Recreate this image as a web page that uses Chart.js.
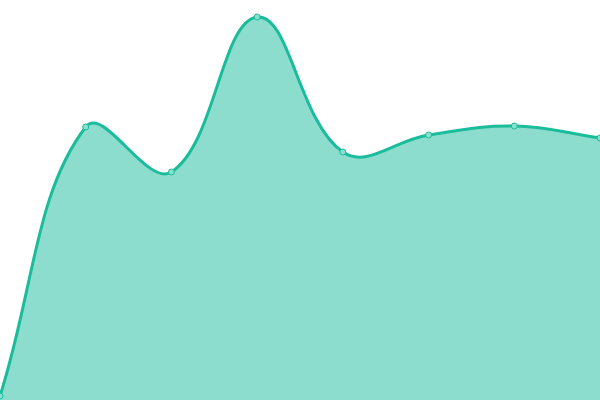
<!DOCTYPE html>
<html>
<head>
<meta charset="utf-8">
<script src="https://cdn.jsdelivr.net/npm/chart.js@4"></script>
<style>
  html, body { margin: 0; padding: 0; background: #fff; }
  #wrap { width: 600px; height: 400px; }
</style>
</head>
<body>
<div id="wrap"><canvas id="chart"></canvas></div>
<script>
const labels = ['1', '2', '3', '4', '5', '6', '7', '8'];
const values = [1, 68.25, 57, 95.75, 62, 66.25, 68.5, 65.5];

new Chart(document.getElementById('chart'), {
  type: 'line',
  data: {
    labels,
    datasets: [{
      data: values,
      borderColor: '#1abc9c',
      backgroundColor: 'rgba(26, 188, 156, 0.5)',
      fill: true,
      tension: 0.4,
      borderWidth: 3,
      pointRadius: 3,
      pointBorderWidth: 1,
      pointBackgroundColor: '#8ae0cf',
      pointBorderColor: '#1abc9c',
    }],
  },
  options: {
    responsive: true,
    maintainAspectRatio: false,
    animation: false,
    layout: { padding: 0, autoPadding: false },
    plugins: {
      legend: { display: false },
      tooltip: { enabled: false },
    },
    scales: {
      x: { display: false, offset: false },
      y: { display: false, min: 0, max: 100 },
    },
  },
});
</script>
</body>
</html>
